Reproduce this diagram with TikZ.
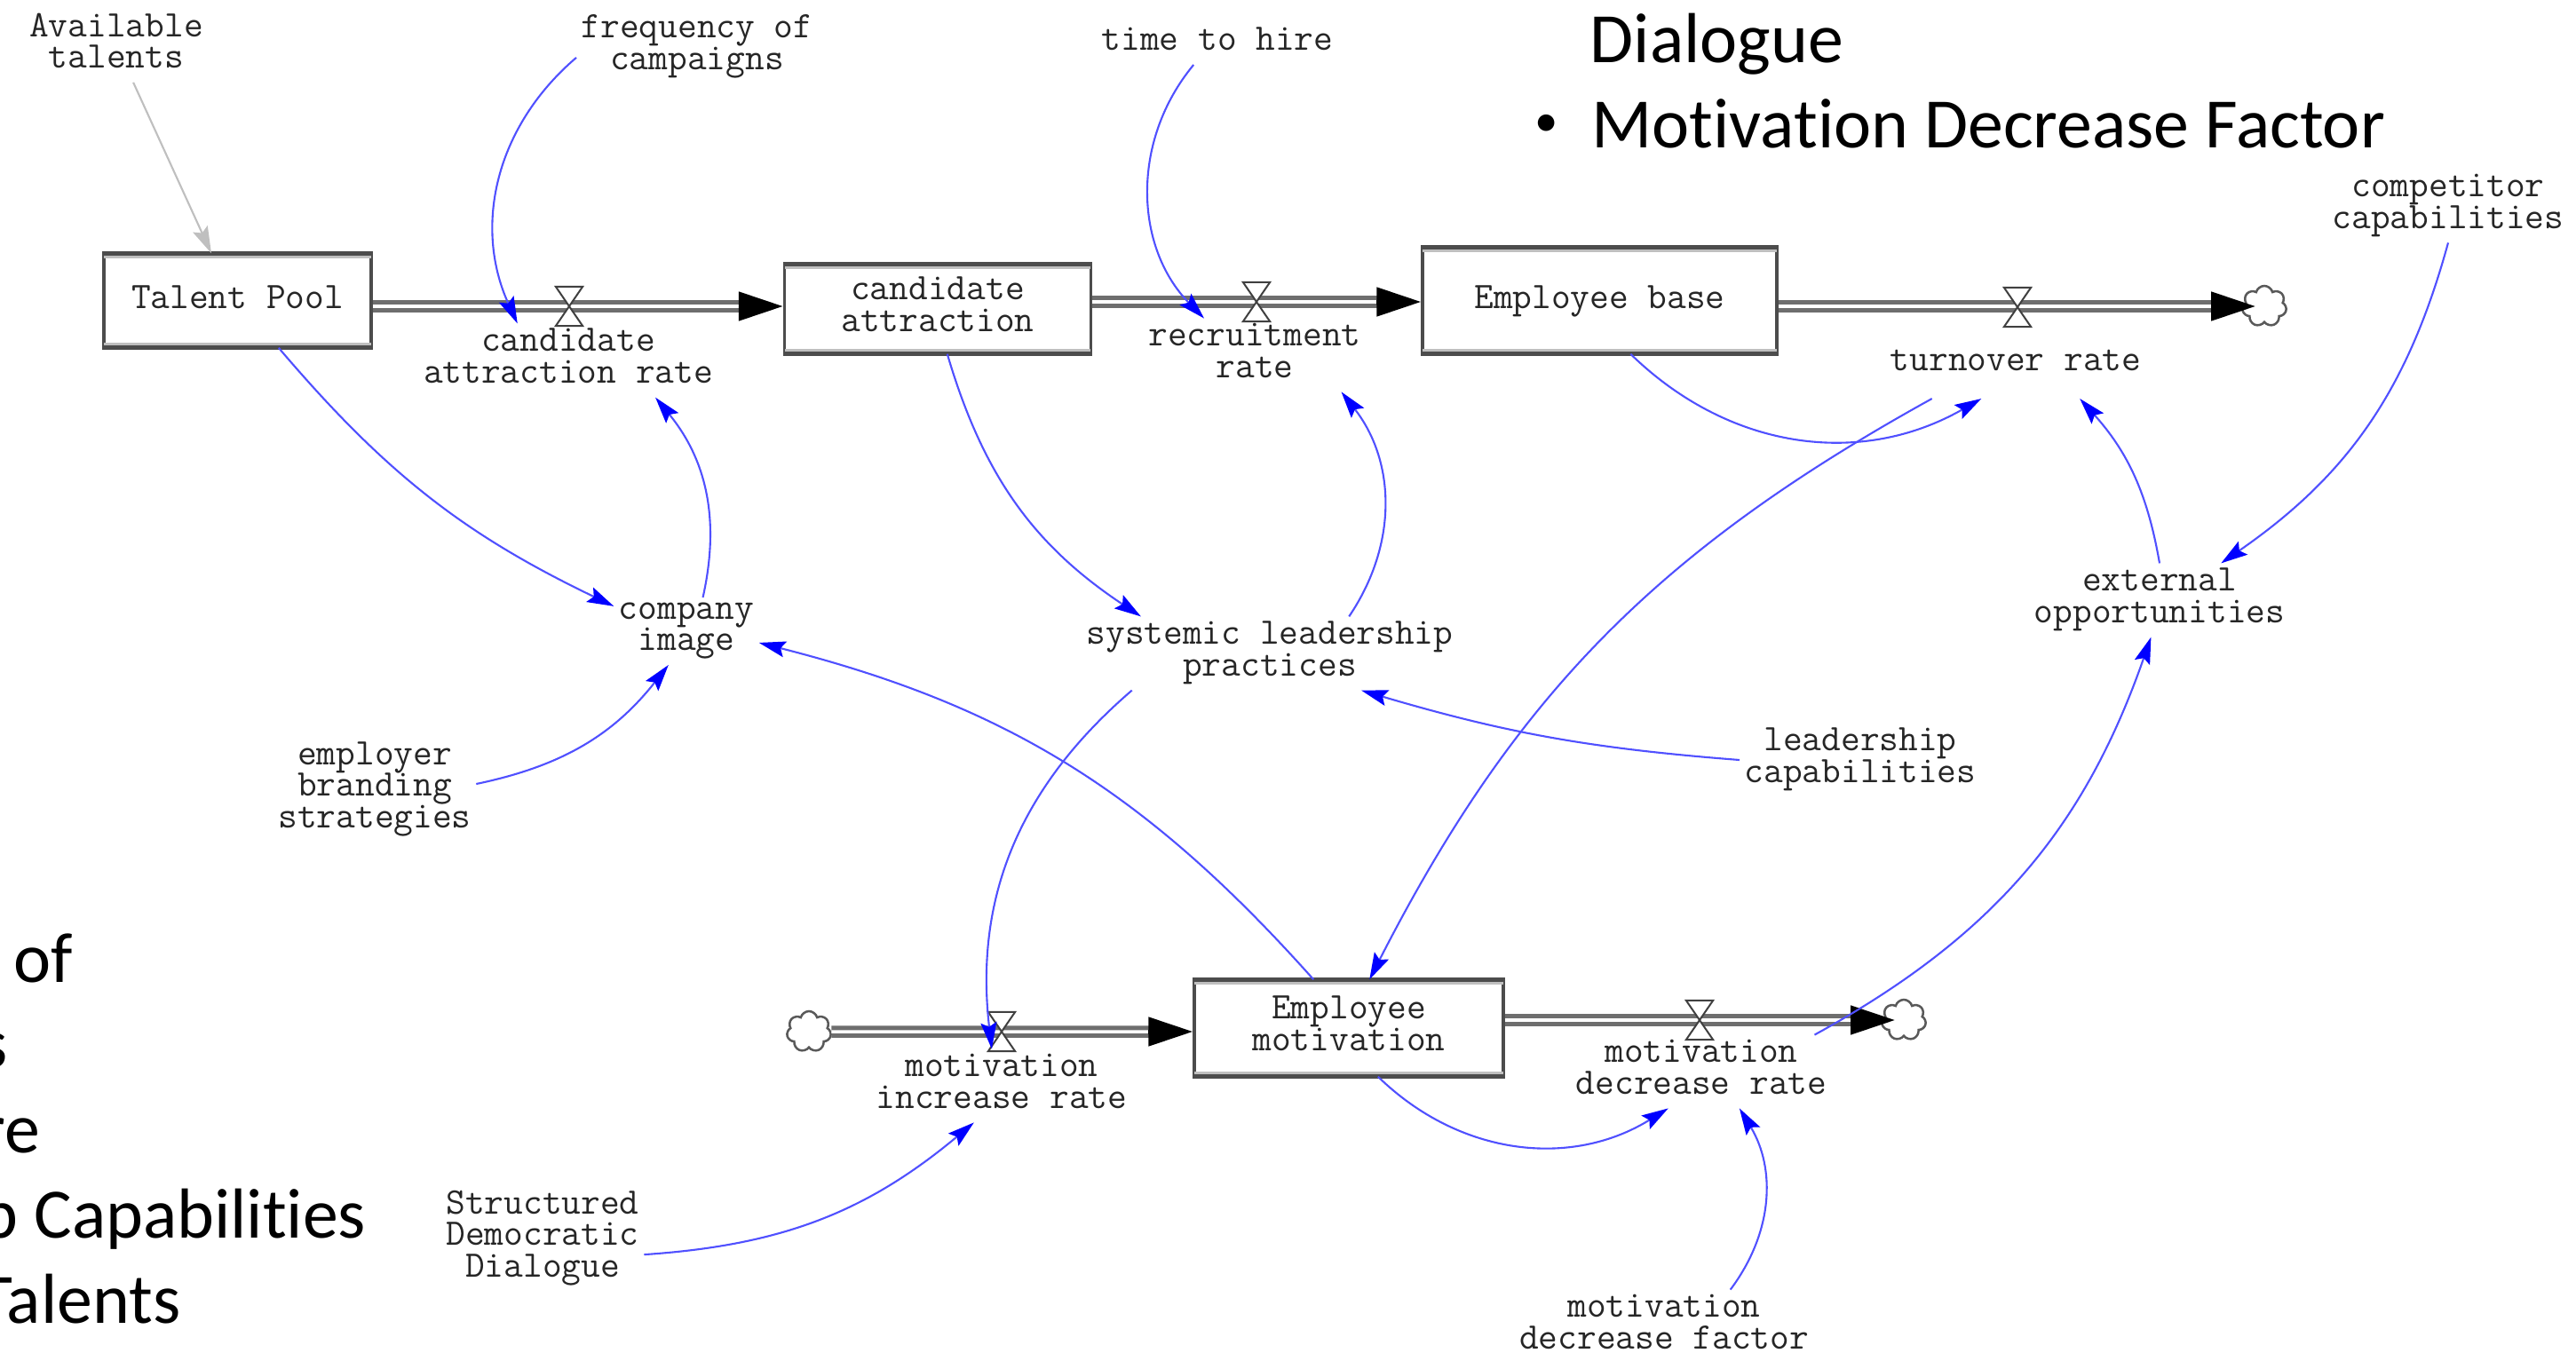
\documentclass[tikz,border=0pt]{standalone}
\usepackage{fontspec}
\usepackage{tikz}
\usetikzlibrary{arrows.meta,shapes.symbols}

\newfontfamily\slidefont{Carlito}[Ligatures=NoCommon]
\definecolor{linkblue}{RGB}{80,80,255}
\definecolor{pipegray}{RGB}{110,110,110}

\newcommand\vstrut{\rule[-3pt]{0pt}{11pt}}
\newcommand\vfont{\fontsize{12}{10.1}\selectfont\ttfamily}

\tikzset{
  var/.style={font=\vfont, text=black!85, align=center, inner sep=0.05cm,
    execute at begin node=\vstrut, execute at end node=\vstrut},
  stock/.style={var, draw=black!70, line width=0.035cm, fill=white},
  valve/.style={minimum width=0.29cm, minimum height=0.43cm, inner sep=0pt},
  sink/.style={cloud, cloud puffs=7, aspect=1, draw=black!65, fill=white, line width=0.025cm,
    minimum width=0.5cm, minimum height=0.46cm, inner sep=0pt},
  pipe/.style={draw=pipegray, line width=0.05cm, double=white, double distance=0.035cm},
  pipetip/.style={-{Triangle[length=0.5cm,width=0.32cm]}, line width=0.05cm},
  link/.style={linkblue, line width=0.6pt, -{Stealth[length=0.3cm,width=0.18cm,inset=0.05cm,color=blue]}},
  graylink/.style={black!25, line width=0.6pt, -{Stealth[length=0.3cm,width=0.18cm,inset=0.05cm]}},
  slide/.style={font=\slidefont\fontsize{22.7}{27.2}\selectfont, inner sep=0pt}
}

\begin{document}
\begin{tikzpicture}
\useasboundingbox (0,0) rectangle (29.01,-15.33);
\clip (0,0) rectangle (29.01,-15.33);
\fill[white] (0,0) rectangle (29.01,-15.33);

% slide text lying behind the model
\node[slide, anchor=base west] (dlg) at (17.90,-0.71) {Dialogue};
\node[slide, font=\slidefont\fontsize{15}{18}\selectfont] (bul) at (17.42,-1.41) {•};
\node[slide, anchor=base west] (mdfac) at (17.92,-1.67) {Motivation Decrease Factor};
\node[slide, anchor=base east] (l1) at (0.83,-11.06) {Frequency of};
\node[slide, anchor=base east] (l2) at (0.09,-12.02) {Campaigns};
\node[slide, anchor=base east] (l3) at (0.46,-12.98) {Time to Hire};
\node[slide, anchor=base east] (l4) at (4.13,-13.94) {Leadership Capabilities};
\node[slide, anchor=base east] (l5) at (2.04,-14.90) {Available Talents};

% stocks
\node[stock, minimum width=3.01cm, minimum height=1.03cm] (tp) at (2.675,-3.385) {Talent Pool};
\node[stock, minimum width=3.45cm, minimum height=0.98cm] (ca) at (10.56,-3.48) {candidate\\attraction};
\node[stock, minimum width=3.99cm, minimum height=1.17cm] (eb) at (18.015,-3.385) {Employee base};
\node[stock, minimum width=3.48cm, minimum height=1.06cm] (em) at (15.19,-11.58) {Employee\\motivation};
\foreach \s in {tp,ca,eb,em} {
  \draw[black!70, line width=0.05cm] (\s.north west) -- (\s.north east);
  \draw[black!70, line width=0.05cm] (\s.south west) -- (\s.south east);
  \draw[black!25, line width=0.03cm] ([shift={(0.02,-0.045)}]\s.north west) -- ([shift={(-0.02,-0.045)}]\s.north east);
  \draw[black!25, line width=0.03cm] ([shift={(0.02,0.045)}]\s.south west) -- ([shift={(-0.02,0.045)}]\s.south east);
}

% valves and clouds
\node[valve] (v1) at (6.41,-3.45) {};
\node[valve] (v2) at (14.15,-3.40) {};
\node[valve] (v3) at (22.72,-3.46) {};
\node[valve] (v4) at (11.28,-11.62) {};
\node[valve] (v5) at (19.14,-11.49) {};
\node[sink] (cl3) at (25.50,-3.45) {};
\node[sink] (cl4) at (9.11,-11.62) {};
\node[sink] (cl5) at (21.44,-11.49) {};

% flow pipes
\draw[pipe] (tp.east |- v1) -- ([xshift=-0.45cm]ca.west |- v1);
\draw[pipetip] ([xshift=-0.5cm]ca.west |- v1) -- (ca.west |- v1);
\draw[pipe] (ca.east |- v2) -- ([xshift=-0.45cm]eb.west |- v2);
\draw[pipetip] ([xshift=-0.5cm]eb.west |- v2) -- (eb.west |- v2);
\draw[pipe] (eb.east |- cl3) -- ([xshift=-0.55cm]cl3.center);
\draw[pipetip] ([xshift=-0.6cm]cl3.center) -- ([xshift=-0.1cm]cl3.center);
\draw[pipe] (cl4.east) -- ([xshift=-0.45cm]em.west |- v4);
\draw[pipetip] ([xshift=-0.5cm]em.west |- v4) -- (em.west |- v4);
\draw[pipe] (em.east |- v5) -- ([xshift=-0.55cm]cl5.center);
\draw[pipetip] ([xshift=-0.6cm]cl5.center) -- ([xshift=-0.1cm]cl5.center);
\foreach \v in {v1,v2,v3,v4,v5}
  \filldraw[fill=white, draw=black!75, line width=0.02cm] (\v.north west) -- (\v.north east) -- (\v.south west) -- (\v.south east) -- cycle;

% variables
\node[var] (av) at (1.31,-0.51) {Available\\talents};
\node[var] (freq) at (7.85,-0.53) {frequency of\\campaigns};
\node[var] (tth) at (13.71,-0.48) {time to hire};
\node[var] (cc) at (27.57,-2.32) {competitor\\capabilities};
\node[var] (car) at (6.40,-4.06) {candidate\\attraction rate};
\node[var] (rr) at (14.13,-4.00) {recruitment\\rate};
\node[var, inner ysep=0.2cm] (tr) at (22.70,-4.09) {turnover rate};
\node[var] (ci) at (7.73,-7.11) {company\\image};
\node[var] (ebs) at (4.22,-8.89) {employer\\branding\\strategies};
\node[var] (slp) at (14.30,-7.36) {systemic leadership\\practices};
\node[var] (lc) at (20.95,-8.56) {leadership\\capabilities};
\node[var] (eo) at (24.32,-6.76) {external\\opportunities};
\node[var] (mir) at (11.28,-12.23) {motivation\\increase rate};
\node[var] (mdr) at (19.16,-12.07) {motivation\\decrease rate};
\node[var] (mdf) at (18.74,-14.94) {motivation\\decrease factor};
\node[var] (sdd) at (6.11,-13.95) {Structured\\Democratic\\Dialogue};

% causal links
\draw[graylink] (av) -- (tp.119);
\draw[link] (freq.185) to[bend right=37] (car.144);
\draw[link] (tp.-49) to[bend right=12] (ci.161);
\draw[link] (ci.64) to[bend right=26] (car.-23);
\draw[link] (ebs.3) to[bend right=20] (ci.242);
\draw[link] (em.126) to[bend right=17] (ci.-9);
\draw[link] (ca.-78) to[bend right=20] (slp.164);
\draw[link] (slp.25) to[bend right=36] (rr.-23);
\draw[link] (tth.223) to[bend right=42] (rr.144);
\draw[link] (lc.west) to[bend left=6] (slp.-22);
\draw[link] (slp.195) to[bend right=28] (mir.105);
\draw[link] (eb.-60) to[bend right=37] (tr.226);
\draw[link] (tr.203) to[bend right=17] (em.67);
\draw[link] (eo.north) to[bend right=16] (tr.-29);
\draw[link] (cc.south) to[bend left=20] (eo.31);
\draw[link] (mdr.18) to[bend right=21] (eo.257);
\draw[link] (em.-59) to[bend right=38] (mdr.228);
\draw[link] (mdf.29) to[bend right=34] (mdr.-44);
\draw[link] (sdd.-9) to[bend right=18] (mir.233);
\end{tikzpicture}
\end{document}
